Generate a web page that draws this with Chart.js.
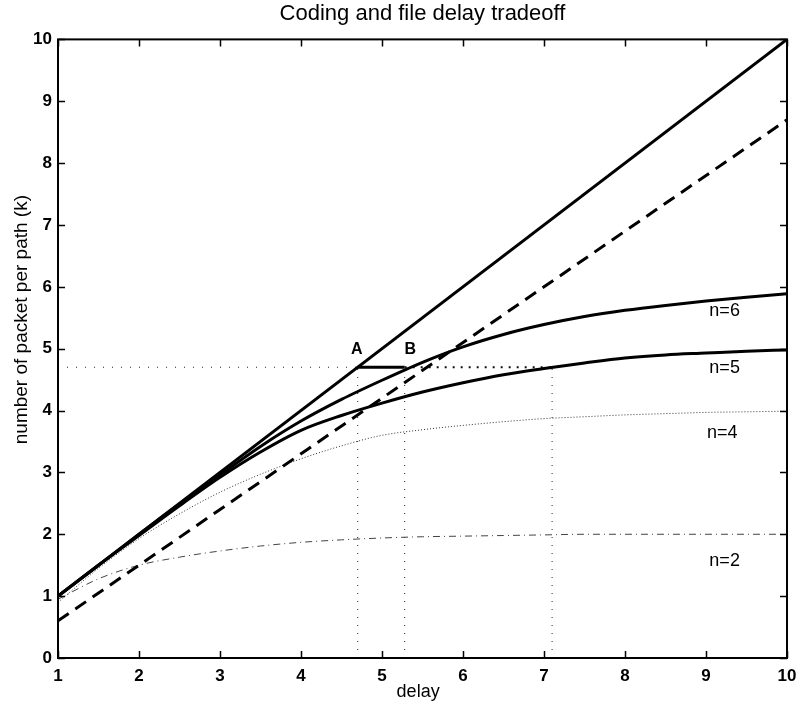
<!DOCTYPE html>
<html>
<head>
<meta charset="utf-8">
<script src="https://cdn.jsdelivr.net/npm/chart.js@4.4.1/dist/chart.umd.min.js"></script>
<style>
  html, body { margin: 0; padding: 0; background: #fff; }
  #wrap { width: 799px; height: 710px; }
</style>
</head>
<body>
<div id="wrap"><canvas id="grafico" width="799" height="710"></canvas></div>
<script>
// DADOS
const delay = [1, 1.5, 2, 2.5, 3, 3.5, 4, 4.5, 5, 5.5, 6, 6.5, 7, 7.5, 8, 8.5, 9, 9.5, 10];
const n6 = [1, 1.5, 2, 2.49, 2.96, 3.42, 3.83, 4.18, 4.49, 4.78, 5.03, 5.23, 5.39, 5.52, 5.62, 5.7, 5.77, 5.83, 5.89];
const n5 = [1, 1.5, 1.98, 2.46, 2.92, 3.33, 3.68, 3.92, 4.12, 4.3, 4.45, 4.58, 4.68, 4.77, 4.85, 4.9, 4.93, 4.96, 4.98];
const n4 = [0.9, 1.45, 1.93, 2.33, 2.68, 2.97, 3.22, 3.43, 3.6, 3.69, 3.76, 3.82, 3.87, 3.9, 3.93, 3.95, 3.97, 3.98, 3.99];
const n2 = [0.95, 1.28, 1.5, 1.63, 1.73, 1.81, 1.87, 1.91, 1.94, 1.96, 1.97, 1.98, 1.99, 2, 2, 2, 2, 2, 2];
const upperX = [1, 10];
const upperY = [1, 10];
const dashX = [1, 10];
const dashY = [0.6, 8.7];

// PONTOS A, B E CRUZAMENTO COM n=5
const kLevel = 4.7;
const xA = 4.7;
const xB = 5.28;
const xC = 7.1;

// ROTULOS
const curveLabels = ["n=6", "n=5", "n=4", "n=2"];
const curveLabelX = [9.23, 9.23, 9.2, 9.23];
const curveLabelY = [5.61, 4.68, 3.63, 1.56];
const pointLabels = ["A", "B"];
const pointLabelX = [4.69, 5.35];
const pointLabelY = [4.98, 4.98];

const xTicks = [1, 2, 3, 4, 5, 6, 7, 8, 9, 10];
const yTicks = [0, 1, 2, 3, 4, 5, 6, 7, 8, 9, 10];

const FONT = "'Liberation Sans', Arial, Helvetica, sans-serif";

function pts(xs, ys) {
  return xs.map((x, i) => ({ x: x, y: ys[i] }));
}

function linha(data, width, dash, color, smooth) {
  return {
    data: data,
    showLine: true,
    borderColor: color || "#000",
    borderWidth: width,
    borderDash: dash || [],
    pointRadius: 0,
    fill: false,
    tension: smooth ? 0.4 : 0,
    cubicInterpolationMode: smooth ? "monotone" : "default",
  };
}

// CAIXA, TICKS PARA DENTRO, TITULOS DOS EIXOS E ROTULOS
const moldura = {
  id: "moldura",
  afterDatasetsDraw(chart) {
    const { ctx, chartArea: a, scales } = chart;
    ctx.save();
    ctx.strokeStyle = "#000";
    ctx.lineWidth = 2;
    ctx.strokeRect(a.left, a.top, a.right - a.left, a.bottom - a.top);
    ctx.lineWidth = 1.5;
    ctx.beginPath();
    xTicks.forEach((t) => {
      const px = Math.round(scales.x.getPixelForValue(t)) + 0.5;
      ctx.moveTo(px, a.bottom); ctx.lineTo(px, a.bottom - 7);
      ctx.moveTo(px, a.top); ctx.lineTo(px, a.top + 7);
    });
    yTicks.forEach((t) => {
      const py = Math.round(scales.y.getPixelForValue(t)) + 0.5;
      ctx.moveTo(a.left, py); ctx.lineTo(a.left + 7, py);
      ctx.moveTo(a.right, py); ctx.lineTo(a.right - 7, py);
    });
    ctx.stroke();

    ctx.fillStyle = "#000";
    ctx.textAlign = "center";
    ctx.textBaseline = "middle";

    // titulos dos eixos
    ctx.font = "18px " + FONT;
    ctx.fillText("delay", a.left + (a.right - a.left) * 0.494, a.bottom + 34);
    ctx.save();
    ctx.translate(22, a.top + (a.bottom - a.top) * 0.453);
    ctx.rotate(-Math.PI / 2);
    ctx.font = "19px " + FONT;
    ctx.fillText("number of packet per path (k)", 0, 0);
    ctx.restore();

    ctx.font = "18px " + FONT;
    curveLabels.forEach((s, i) => {
      ctx.fillText(s, scales.x.getPixelForValue(curveLabelX[i]), scales.y.getPixelForValue(curveLabelY[i]));
    });
    ctx.font = "bold 16px " + FONT;
    pointLabels.forEach((s, i) => {
      ctx.fillText(s, scales.x.getPixelForValue(pointLabelX[i]), scales.y.getPixelForValue(pointLabelY[i]));
    });
    ctx.restore();
  },
};

new Chart(document.getElementById("grafico"), {
  type: "scatter",
  data: {
    datasets: [
      linha(pts(upperX, upperY), 3),
      linha(pts(dashX, dashY), 3, [13, 8]),
      linha(pts(delay, n6), 3, [], "#000", true),
      linha(pts(delay, n5), 3, [], "#000", true),
      linha(pts(delay, n4), 1, [1, 2], "#333", true),
      linha(pts(delay, n2), 1, [7, 4, 1, 4], "#444", true),
      // guias
      linha(pts([1, xA], [kLevel, kLevel]), 1, [1, 8], "#222"),
      linha(pts([xA, xB], [kLevel, kLevel]), 3),
      linha(pts([xB, xC], [kLevel, kLevel]), 2, [2, 6], "#111"),
      linha(pts([xA, xA], [0, kLevel]), 1, [1, 7], "#222"),
      linha(pts([xB, xB], [0, kLevel]), 1, [1, 7], "#222"),
      linha(pts([xC, xC], [0, kLevel]), 1, [1, 7], "#222"),
    ],
  },
  options: {
    responsive: false,
    animation: false,
    layout: { padding: { top: 0, right: 12, left: 0, bottom: 0 } },
    plugins: {
      legend: { display: false },
      tooltip: { enabled: false },
      title: {
        display: true,
        fullSize: false,
        text: "Coding and file delay tradeoff",
        color: "#000",
        font: { family: FONT, size: 22, weight: "normal", lineHeight: 1.2 },
        padding: { top: 1, bottom: 12 },
      },
    },
    scales: {
      x: {
        type: "linear",
        min: 1,
        max: 10,
        afterBuildTicks: (s) => { s.ticks = xTicks.map((v) => ({ value: v })); },
        afterFit: (s) => { s.height = 52; s.paddingLeft = 0; s.paddingRight = 0; },
        grid: { display: false, drawTicks: false },
        border: { display: false },
        ticks: { color: "#000", padding: 8, font: { family: FONT, size: 17, weight: "bold" } },
      },
      y: {
        type: "linear",
        min: 0,
        max: 10,
        afterBuildTicks: (s) => { s.ticks = yTicks.map((v) => ({ value: v })); },
        afterFit: (s) => { s.width = 58; s.paddingTop = 0; s.paddingBottom = 0; },
        grid: { display: false, drawTicks: false },
        border: { display: false },
        ticks: { color: "#000", padding: 6, font: { family: FONT, size: 17, weight: "bold" } },
      },
    },
  },
  plugins: [moldura],
});
</script>
</body>
</html>
